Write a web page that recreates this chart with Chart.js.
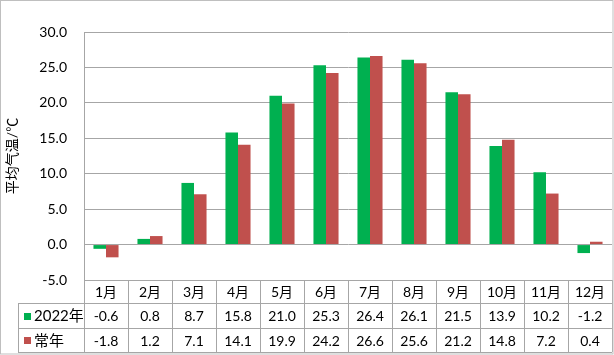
<!DOCTYPE html>
<html><head><meta charset="utf-8">
<script src="https://cdn.jsdelivr.net/npm/chart.js@4"></script>
<style>html,body{margin:0;padding:0;background:#fff}#c{display:block}</style>
</head><body>
<canvas id="c" width="614" height="355" style="width:614px;height:355px"></canvas>
<script>
const months = ['1月','2月','3月','4月','5月','6月','7月','8月','9月','10月','11月','12月'];
const series2022 = [-0.6,0.8,8.7,15.8,21.0,25.3,26.4,26.1,21.5,13.9,10.2,-1.2];
const seriesNormal = [-1.8,1.2,7.1,14.1,19.9,24.2,26.6,25.6,21.2,14.8,7.2,0.4];
const seriesNames = ['2022年','常年'];
const colors = ['#00B050','#C0504D'];
const FONT = "Lato, 'Noto Sans CJK SC', sans-serif";

const tablePlugin = {
  id: 'table',
  afterDraw(chart) {
    const ctx = chart.ctx, xs = chart.scales.x, ca = chart.chartArea;
    const colW = (ca.right - ca.left) / months.length;
    const top = ca.bottom, r1 = top + 23, r2 = top + 48, bot = top + 72, leftT = 18;
    ctx.save();
    ctx.strokeStyle = '#A6A6A6'; ctx.lineWidth = 1;
    ctx.beginPath();
    for (let i = 0; i <= months.length; i++) {
      const x = Math.round(ca.left + i * colW) + 0.5;
      ctx.moveTo(x, top); ctx.lineTo(x, bot);
    }
    [r1, r2, bot].forEach(y => { ctx.moveTo(leftT, y + 0.5); ctx.lineTo(ca.right, y + 0.5); });
    ctx.moveTo(leftT + 0.5, r1); ctx.lineTo(leftT + 0.5, bot);
    ctx.stroke();
    ctx.fillStyle = '#000'; ctx.textAlign = 'center'; ctx.textBaseline = 'middle';
    ctx.font = '14px ' + FONT;
    const rows = [series2022, seriesNormal];
    months.forEach((m, i) => {
      const cx = xs.getPixelForValue(i);
      ctx.fillText(m, cx, (top + r1) / 2 + 1);
      ctx.fillText(rows[0][i].toFixed(1), cx, (r1 + r2) / 2 + 1);
      ctx.fillText(rows[1][i].toFixed(1), cx, (r2 + bot) / 2 + 1);
    });
    ctx.textAlign = 'left';
    ctx.font = '15px ' + FONT;
    [[r1, r2], [r2, bot]].forEach(([a, b], k) => {
      const cy = (a + b) / 2;
      ctx.fillStyle = colors[k];
      ctx.fillRect(24, Math.round(cy) - 3, 7, 7);
      ctx.fillStyle = '#000';
      ctx.fillText(seriesNames[k], 34, cy + 1);
    });
    ctx.restore();
    ctx.save();
    ctx.strokeStyle = '#BFBFBF'; ctx.lineWidth = 1;
    ctx.strokeRect(0.5, 0.5, 612.5, 353.5);
    ctx.restore();
  }
};

const bgPlugin = {
  id: 'bg',
  beforeDraw(chart) { const c = chart.ctx; c.save(); c.fillStyle = '#fff'; c.fillRect(0, 0, chart.width, chart.height); c.restore(); }
};

new Chart(document.getElementById('c'), {
  type: 'bar',
  data: {
    labels: months,
    datasets: [
      { label: seriesNames[0], data: series2022, backgroundColor: colors[0], categoryPercentage: 0.57, barPercentage: 1.0 },
      { label: seriesNames[1], data: seriesNormal, backgroundColor: colors[1], categoryPercentage: 0.57, barPercentage: 1.0 }
    ]
  },
  options: {
    responsive: false, animation: false, devicePixelRatio: 1,
    layout: { padding: { left: 0, right: 2, top: 32, bottom: 75 } },
    plugins: { legend: { display: false }, tooltip: { enabled: false } },
    scales: {
      x: { display: true, grid: { display: false }, border: { display: false }, ticks: { display: false }, afterFit(s) { s.height = 0; } },
      y: {
        min: -5, max: 30,
        ticks: { stepSize: 5, padding: 17, color: '#000', font: { family: FONT, size: 14 }, callback: v => Number(v).toFixed(1) },
        grid: { color: '#A6A6A6', drawTicks: false },
        border: { display: true, color: '#A6A6A6' },
        title: { display: true, text: '平均气温/℃', color: '#000', font: { family: FONT, size: 14 }, padding: { top: 4, bottom: 0 } },
        afterFit(s) { s.width = 84; }
      }
    }
  },
  plugins: [bgPlugin, tablePlugin]
});
</script>
</body></html>
